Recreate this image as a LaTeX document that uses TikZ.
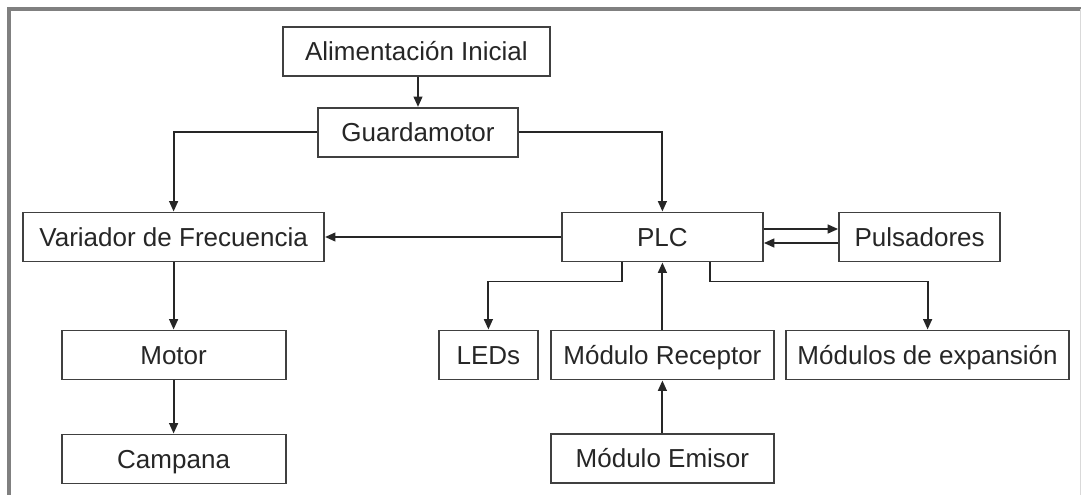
\documentclass[tikz,border=0pt]{standalone}
\usepackage{fontspec}
\setmainfont{Liberation Sans}
\usetikzlibrary{positioning,arrows.meta,calc}
\tikzset{
  blk/.style   = {rectangle, draw=black!75, line width=1.4pt, fill=white,
                  minimum height=12.25mm, inner sep=0pt,
                  font=\fontsize{18.5}{22}\selectfont, text=black!85,
                  text height=15.7pt, text depth=2.8pt},
  edge/.style  = {-{Triangle[length=2.6mm,width=2.2mm]}, line width=1.3pt, draw=black!85},
  frame/.style = {draw=black!50, line width=2.2pt},
}
\begin{document}
\begin{tikzpicture}

  \useasboundingbox (0,0) rectangle (27.025,-12.375);

  % outer frame
  \draw[frame] (27.025,-0.225) -- (0.225,-0.225) -- (0.225,-12.375);
  \draw[draw=black!15, line width=0.5pt] (27.0,-0.225) -- (27.0,-12.375);

  \node[blk, minimum width=66.75mm] (alim)  at (10.41,-1.29)   {Alimentación Inicial};
  \node[blk, minimum width=50mm]    (guard) at (10.45,-3.31)   {Guardamotor};
  \node[blk, minimum width=75.25mm] (var)   at (4.34,-5.925)   {Variador de Frecuencia};
  \node[blk, minimum width=50.25mm] (plc)   at (16.56,-5.925)  {PLC};
  \node[blk, minimum width=40.25mm] (puls)  at (22.99,-5.925)  {Pulsadores};
  \node[blk, minimum width=56mm]    (motor) at (4.34,-8.875)   {Motor};
  \node[blk, minimum width=56mm]    (camp)  at (4.34,-11.475)  {Campana};
  \node[blk, minimum width=24.75mm] (leds)  at (12.21,-8.875)  {LEDs};
  \node[blk, minimum width=55.75mm] (rec)   at (16.56,-8.875)  {Módulo Receptor};
  \node[blk, minimum width=70.75mm] (exp)   at (23.19,-8.875)  {Módulos de expansión};
  \node[blk, minimum width=55.75mm] (emi)   at (16.56,-11.46)  {Módulo Emisor};

  % supply
  \draw[edge] (guard.north |- alim.south) -- (guard.north);
  \draw[edge] (guard.west) -| (var.north);
  \draw[edge] (guard.east) -| (plc.north);

  % PLC links
  \draw[edge] (plc.west) -- (var.east);
  \draw[edge] ([yshift=2mm]plc.east) -- ([yshift=2mm]puls.west);
  \draw[edge] ([yshift=-1.5mm]puls.west) -- ([yshift=-1.5mm]plc.east);
  \draw[edge] ([xshift=-10mm]plc.south) -- ++(0,-0.475) -| (leds.north);
  \draw[edge] ([xshift=12mm]plc.south) -- ++(0,-0.475) -| (exp.north);
  \draw[edge] (rec) -- (plc);
  \draw[edge] (emi) -- (rec);

  % drive
  \draw[edge] (var) -- (motor);
  \draw[edge] (motor) -- (camp);

\end{tikzpicture}
\end{document}
